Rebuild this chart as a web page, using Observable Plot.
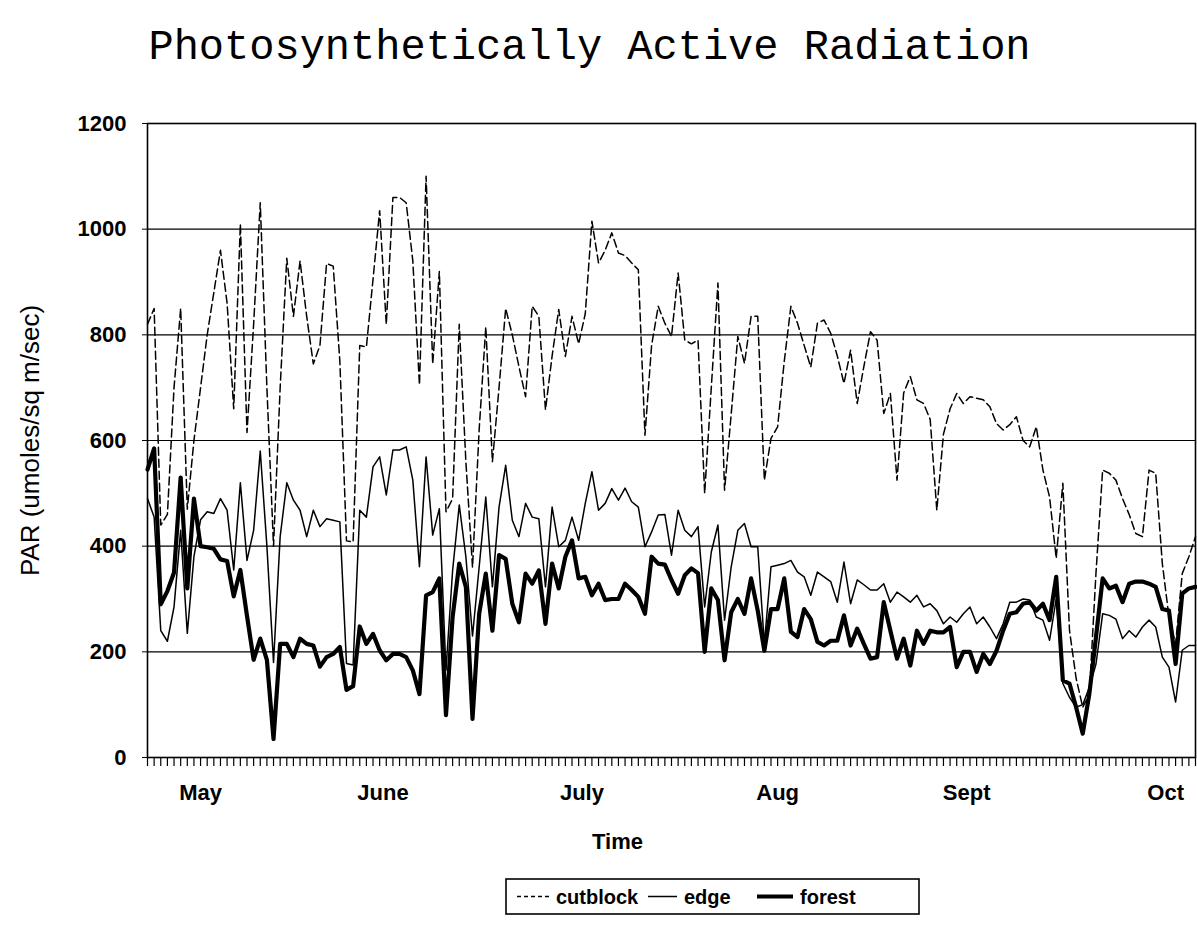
<!DOCTYPE html>
<html>
<head>
<meta charset="utf-8">
<script src="https://cdn.jsdelivr.net/npm/d3@7"></script>
<script src="https://cdn.jsdelivr.net/npm/@observablehq/plot@0.6"></script>
<style>
  body { margin: 0; background: #fff; }
  #wrap { position: relative; width: 1197px; height: 942px; overflow: hidden; }
  #legend { position: absolute; left: 505px; top: 878px; }
</style>
</head>
<body>
<div id="wrap"><div id="chart"></div><div id="legend"></div></div>
<script>
// ---- data (daily PAR, umoles/sq m/sec) ----
const cutblock = [
  820,850,440,460,700,850,470,600,700,800,
  880,960,860,660,1010,615,820,1050,700,400,
  700,945,835,940,835,745,780,935,930,750,
  410,408,780,777,905,1035,820,1060,1060,1050,
  940,705,1100,745,920,465,490,820,560,360,
  620,815,560,700,850,800,740,683,854,835,
  658,760,848,759,835,783,840,1015,936,960,
  993,955,950,936,923,610,780,854,822,797,
  917,790,783,790,500,700,898,506,650,797,
  746,835,835,525,604,626,750,854,822,780,
  739,822,828,803,760,708,771,670,740,806,
  790,651,689,525,690,721,677,670,640,468,
  612,660,689,670,683,680,677,664,632,620,
  630,645,600,588,626,544,493,377,519,241,
  150,95,120,350,544,538,525,490,460,424,
  418,544,538,367,266,215,348,380,418
];
const edge = [
  490,455,240,220,285,430,235,380,450,465,
  462,490,468,355,520,373,430,580,400,180,
  418,520,487,468,418,468,437,452,449,446,
  178,175,468,455,550,569,497,582,582,588,
  525,361,569,421,471,165,354,478,380,230,
  360,493,323,474,553,449,418,481,455,452,
  323,474,399,411,455,411,481,541,468,481,
  509,487,510,484,474,399,427,459,460,383,
  468,430,418,437,285,389,440,260,361,430,
  443,399,399,215,361,364,367,373,351,342,
  307,351,342,333,294,370,291,336,327,317,
  317,329,294,313,304,294,307,285,291,278,
  253,266,256,272,285,253,266,247,225,253,
  294,294,300,298,266,260,222,300,140,114,
  95,100,133,177,272,269,262,225,240,228,
  247,260,247,190,171,105,203,212,212
];
const forest = [
  545,585,290,315,350,530,320,490,400,398,
  395,375,372,305,355,268,185,225,185,35,
  215,215,190,225,215,212,172,190,196,209,
  128,135,248,215,234,203,184,196,196,190,
  165,120,307,313,339,80,266,367,323,73,
  272,348,240,383,376,291,256,348,329,354,
  253,367,320,380,411,339,342,307,329,298,
  300,300,329,317,304,272,380,367,365,336,
  310,345,358,349,200,320,298,184,275,300,
  272,339,278,202,281,281,339,238,228,281,
  262,219,212,221,221,269,212,244,215,187,
  190,294,240,187,225,174,240,215,240,237,
  237,247,171,200,200,162,196,177,202,240,
  272,275,291,294,278,291,260,342,146,140,
  95,45,121,228,339,320,325,294,329,333,
  333,329,323,281,278,177,310,320,323
];
const seriesNames = ["cutblock", "edge", "forest"];
const monthLabels = ["May", "June", "July", "Aug", "Sept", "Oct"];
const monthDay = [8, 35.5, 65.5, 95, 123.5, 153.5];   // day index under which each month label sits
const yTicks = [0, 200, 400, 600, 800, 1000, 1200];

// ---- styles ----
const seriesStyle = {
  cutblock: {strokeWidth: 1.5, strokeDasharray: "8,4", legendDash: "4,3"},
  edge: {strokeWidth: 1.5, strokeDasharray: null, legendDash: null},
  forest: {strokeWidth: 4.2, strokeDasharray: null, legendDash: null}
};
const values = {cutblock, edge, forest};
const N = forest.length;
const rows = seriesNames.flatMap(s => values[s].map((v, i) => ({series: s, day: i, value: v})));
const font = "'Liberation Sans', Arial, sans-serif";

const chart = Plot.plot({
  width: 1197,
  height: 942,
  marginLeft: 147,
  marginRight: 2,
  marginTop: 123,
  marginBottom: 185,
  x: {domain: [0, N - 1]},
  y: {domain: [0, 1200]},
  style: {fontFamily: font, fontSize: "22px", color: "#000", background: "#fff"},
  marks: [
    Plot.gridY(yTicks, {stroke: "#000", strokeOpacity: 1, strokeWidth: 1.2}),
    Plot.frame({stroke: "#000", strokeWidth: 1.6}),
    Plot.axisY(yTicks, {tickSize: 5, tickPadding: 16, fontSize: 22, fontWeight: "bold", label: null, tickFormat: d => String(d)}),
    Plot.axisX(d3.range(N), {tickSize: 9, tickFormat: () => "", label: null, strokeWidth: 1.2}),
    Plot.axisX(monthDay, {tickSize: 0, tickPadding: 27, fontSize: 22, fontWeight: "bold", label: null,
      tickFormat: d => monthLabels[monthDay.indexOf(d)]}),
    ...seriesNames.map(s => Plot.line(rows.filter(r => r.series === s), {
      x: "day", y: "value", stroke: "#000",
      strokeWidth: seriesStyle[s].strokeWidth,
      strokeDasharray: seriesStyle[s].strokeDasharray,
      strokeLinejoin: "round"
    })),
    Plot.text(["PAR (umoles/sq m/sec)"], {frameAnchor: "left", textAnchor: "middle", rotate: -90, dx: -117,
      fontSize: 26, fontFamily: font}),
    Plot.text(["Time"], {frameAnchor: "bottom", dx: -54, dy: 91, fontSize: 22, fontWeight: "bold", fontFamily: font}),
    Plot.text(["Photosynthetically Active Radiation"], {frameAnchor: "top", dx: -82, dy: -94,
      fontSize: 42, fontFamily: "'Liberation Mono', 'Courier New', monospace"})
  ]
});
document.getElementById("chart").appendChild(chart);

// ---- legend ----
const lw = 413, lh = 35;
const leg = d3.select("#legend").append("svg").attr("width", lw + 2).attr("height", lh + 2);
leg.append("rect").attr("x", 1).attr("y", 1).attr("width", lw).attr("height", lh)
  .attr("fill", "#fff").attr("stroke", "#000").attr("stroke-width", 1.6);
const legX = [12, 143, 252];
const legLine = [32, 29, 36];
seriesNames.forEach((s, k) => {
  const g = leg.append("g").attr("transform", `translate(${legX[k]},${lh / 2 + 1})`);
  g.append("line").attr("x1", 0).attr("x2", legLine[k]).attr("y1", 0).attr("y2", 0)
    .attr("stroke", "#000").attr("stroke-width", seriesStyle[s].strokeWidth)
    .attr("stroke-dasharray", seriesStyle[s].legendDash);
  g.append("text").attr("x", legLine[k] + 7).attr("y", 0).attr("dy", "0.35em")
    .attr("font-family", font).attr("font-size", 20).attr("font-weight", "bold").text(s);
});
</script>
</body>
</html>
